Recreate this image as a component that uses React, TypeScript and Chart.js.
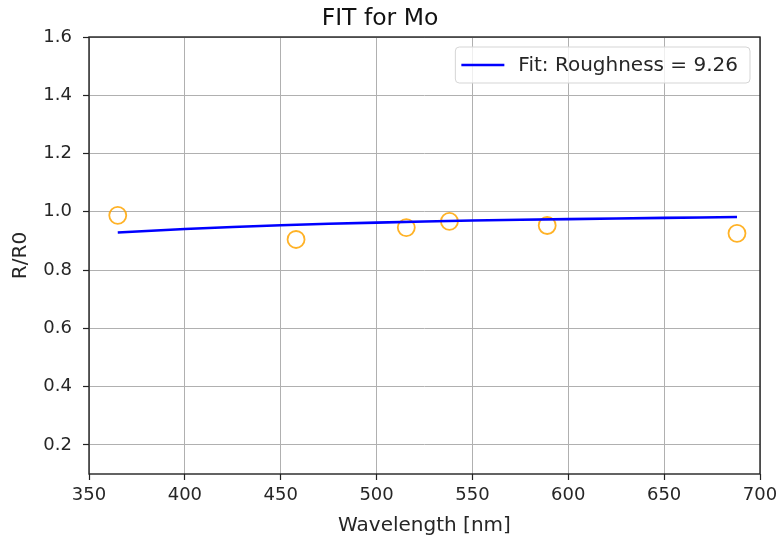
import React, { useEffect, useRef } from "react";
import { Chart, registerables } from "chart.js";

Chart.register(...registerables);

const titleText = "FIT for Mo";
const xLabel = "Wavelength [nm]";
const yLabel = "R/R0";
const legendLabel = "Fit: Roughness = 9.26";

const measWavelength = [365, 458, 515.5, 538, 589, 688];
const measRatio = [0.988, 0.905, 0.946, 0.967, 0.953, 0.926];

const fitWavelength = [365, 400, 450, 500, 550, 600, 650, 688];
const fitRatio = [0.929, 0.941, 0.954, 0.963, 0.97, 0.975, 0.979, 0.982];

const xTicks = [350, 400, 450, 500, 550, 600, 650, 700];
const yTicks = [0.2, 0.4, 0.6, 0.8, 1.0, 1.2, 1.4, 1.6];

const FONT = "'DejaVu Sans', sans-serif";

const framePlugin = {
  id: "frameAndLegend",
  afterDatasetsDraw(chart: any) {
    const { ctx, chartArea } = chart;
    ctx.save();
    ctx.strokeStyle = "#222";
    ctx.lineWidth = 1.4;
    ctx.strokeRect(chartArea.left, chartArea.top, chartArea.right - chartArea.left, chartArea.bottom - chartArea.top);

    // legend
    ctx.font = `20px ${FONT}`;
    const tw = ctx.measureText(legendLabel).width;
    const w = 63 + tw + 12;
    const h = 36;
    const x = chartArea.right - 10 - w;
    const y = chartArea.top + 10;
    const r = 4;
    ctx.beginPath();
    ctx.moveTo(x + r, y);
    ctx.lineTo(x + w - r, y);
    ctx.quadraticCurveTo(x + w, y, x + w, y + r);
    ctx.lineTo(x + w, y + h - r);
    ctx.quadraticCurveTo(x + w, y + h, x + w - r, y + h);
    ctx.lineTo(x + r, y + h);
    ctx.quadraticCurveTo(x, y + h, x, y + h - r);
    ctx.lineTo(x, y + r);
    ctx.quadraticCurveTo(x, y, x + r, y);
    ctx.closePath();
    ctx.fillStyle = "rgba(255,255,255,0.8)";
    ctx.fill();
    ctx.strokeStyle = "#d5d5d5";
    ctx.lineWidth = 1;
    ctx.stroke();

    ctx.strokeStyle = "#0000ff";
    ctx.lineWidth = 2.6;
    ctx.beginPath();
    ctx.moveTo(x + 6, y + h / 2);
    ctx.lineTo(x + 49, y + h / 2);
    ctx.stroke();

    ctx.fillStyle = "#262626";
    ctx.textBaseline = "middle";
    ctx.textAlign = "left";
    ctx.fillText(legendLabel, x + 63, y + h / 2 + 1);
    ctx.restore();
  },
};

export default function App() {
  const ref = useRef<HTMLCanvasElement | null>(null);

  useEffect(() => {
    if (!ref.current) return;
    const chart = new Chart(ref.current, {
      type: "scatter",
      data: {
        datasets: [
          {
            type: "line",
            label: legendLabel,
            data: fitWavelength.map((x, i) => ({ x, y: fitRatio[i] })),
            borderColor: "#0000ff",
            borderWidth: 2.6,
            pointRadius: 0,
            fill: false,
            tension: 0.3,
            order: 0,
          } as any,
          {
            type: "scatter",
            label: "Data",
            data: measWavelength.map((x, i) => ({ x, y: measRatio[i] })),
            pointRadius: 8.5,
            pointBorderWidth: 1.8,
            pointBackgroundColor: "rgba(0,0,0,0)",
            pointBorderColor: "rgba(255,165,0,0.85)",
            order: 1,
          },
        ],
      },
      options: {
        responsive: false,
        animation: false,
        layout: { padding: { left: 0, right: 18, top: 0, bottom: 0 } },
        plugins: {
          legend: { display: false },
          tooltip: { enabled: false },
          title: {
            display: true,
            text: titleText,
            color: "#111",
            font: { family: FONT, size: 23.5, weight: "normal" },
            padding: { top: 4.5, bottom: 4.3 },
          },
        },
        scales: {
          x: {
            type: "linear",
            min: 350,
            max: 700,
            afterBuildTicks: (s: any) => {
              s.ticks = xTicks.map((v) => ({ value: v }));
            },
            afterFit: (s: any) => {
              s.height = 67;
              s.paddingRight = 0;
              s.paddingLeft = 0;
            },
            grid: { color: "#b0b0b0", lineWidth: 1, tickLength: 6, tickColor: "#222", tickWidth: 1.2 },
            border: { display: false },
            ticks: {
              color: "#262626",
              padding: 5,
              font: { family: FONT, size: 18 },
              maxRotation: 0,
              callback: (v: any) => String(v),
            },
            title: {
              display: true,
              text: xLabel,
              color: "#262626",
              font: { family: FONT, size: 20 },
              padding: { top: 0, bottom: 3 },
            },
          },
          y: {
            type: "linear",
            min: 0.1,
            max: 1.6,
            afterBuildTicks: (s: any) => {
              s.ticks = yTicks.map((v) => ({ value: v }));
            },
            afterFit: (s: any) => {
              s.width = 89;
            },
            grid: { color: "#b0b0b0", lineWidth: 1, tickLength: 6, tickColor: "#222", tickWidth: 1.2 },
            border: { display: false },
            ticks: {
              color: "#262626",
              padding: 11,
              font: { family: FONT, size: 18 },
              callback: (v: any) => Number(v).toFixed(1),
            },
            title: {
              display: true,
              text: yLabel,
              color: "#262626",
              font: { family: FONT, size: 20 },
              padding: { top: 8.5, bottom: 0 },
            },
          },
        },
      },
      plugins: [framePlugin],
    });
    return () => chart.destroy();
  }, []);

  return (
    <div style={{ position: "absolute", left: 0, top: 0, width: 778, height: 541, background: "#fff" }}>
      <canvas ref={ref} width={778} height={541} />
    </div>
  );
}
